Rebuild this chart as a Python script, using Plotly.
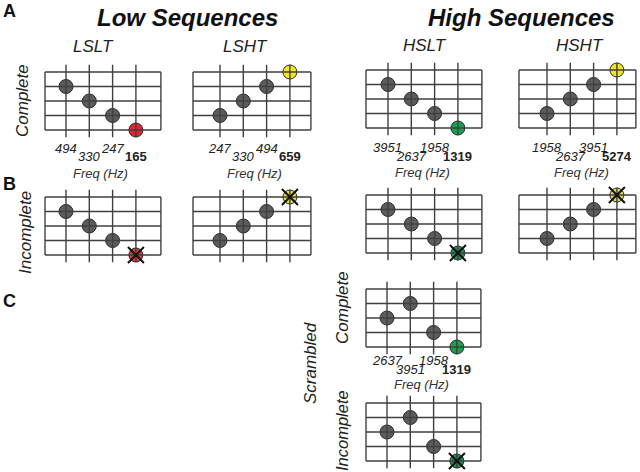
import plotly.graph_objects as go

# tone order (x position in the sequence) and pitch rank (y level, 0 = lowest row)
tone_positions = [1, 2, 3, 4]

lslt_freqs = ["494", "330", "247", "165"]
lslt_levels = [3, 2, 1, 0]
lsht_freqs = ["247", "330", "494", "659"]
lsht_levels = [1, 2, 3, 4]
hslt_freqs = ["3951", "2637", "1958", "1319"]
hslt_levels = [3, 2, 1, 0]
hsht_freqs = ["1958", "2637", "3951", "5274"]
hsht_levels = [1, 2, 3, 4]
scr_freqs = ["2637", "3951", "1958", "1319"]
scr_levels = [2, 3, 1, 0]

grid_levels = [0, 1, 2, 3, 4]

W, H = 640, 472
U, V = 23.3, 14.5  # pixels per tone / per level
FONT = "Liberation Sans, Arial, sans-serif"

RED, YEL, GRN = "#e0262a", "#f4e524", "#17a052"
RED_I, YEL_I, GRN_I = "#cf3b40", "#e0d64c", "#1f8c55"
GRAY = "#5c5c5c"
LINE = "#404040"

# placement of each panel: x pixel of tone 1, y pixel of box top, box overhangs (px)
panels = [
    dict(f=lslt_freqs, lv=lslt_levels, c=RED, inc=False, lx=66, ty=72, lo=21, ro=25, lab=(18, 26, 43)),
    dict(f=lsht_freqs, lv=lsht_levels, c=YEL, inc=False, lx=220, ty=72, lo=27, ro=21, lab=(18, 26, 43)),
    dict(f=hslt_freqs, lv=hslt_levels, c=GRN, inc=False, lx=388, ty=70, lo=22, ro=24, lab=(19, 28, 44)),
    dict(f=hsht_freqs, lv=hsht_levels, c=YEL, inc=False, lx=547, ty=70, lo=28, ro=19, lab=(19, 28, 44)),
    dict(f=lslt_freqs, lv=lslt_levels, c=RED_I, inc=True, lx=66, ty=197, lo=21, ro=25),
    dict(f=lsht_freqs, lv=lsht_levels, c=YEL_I, inc=True, lx=220, ty=197, lo=27, ro=21),
    dict(f=hslt_freqs, lv=hslt_levels, c=GRN_I, inc=True, lx=388, ty=195, lo=22, ro=24),
    dict(f=hsht_freqs, lv=hsht_levels, c=YEL_I, inc=True, lx=547, ty=195, lo=28, ro=19),
    dict(f=scr_freqs, lv=scr_levels, c=GRN, inc=False, lx=387, ty=289, lo=21, ro=24, lab=(13, 22, 37)),
    dict(f=scr_freqs, lv=scr_levels, c=GRN_I, inc=True, lx=387, ty=403, lo=21, ro=24),
]

fig = go.Figure()
annotations = []
layout_axes = {}

for i, p in enumerate(panels):
    n = "" if i == 0 else str(i + 1)
    xa, ya = "x" + n, "y" + n

    bx0 = 1 - p["lo"] / U
    bx1 = 4 + p["ro"] / U

    # axis ranges -> pixel domains
    xr = [bx0 - 0.35, bx1 + 0.35]
    px0 = max(0, p["lx"] + (xr[0] - 1) * U)
    px1 = min(W, p["lx"] + (xr[1] - 1) * U)
    xr = [1 + (px0 - p["lx"]) / U, 1 + (px1 - p["lx"]) / U]
    ybot = -(p["lab"][2] + 9) / V if "lab" in p else -0.6
    ybot = max(ybot, -(H - p["ty"] - 4 * V) / V)
    yr = [ybot, 4.6]
    py_top = p["ty"] - 0.6 * V
    py_bot = p["ty"] + (4 - ybot) * V

    layout_axes["xaxis" + n] = dict(domain=[px0 / W, px1 / W], range=xr, visible=False,
                                    fixedrange=True, anchor=ya)
    layout_axes["yaxis" + n] = dict(domain=[max(0, 1 - py_bot / H), 1 - py_top / H], range=yr,
                                    visible=False, fixedrange=True, anchor=xa)

    colors = [GRAY, GRAY, GRAY, p["c"]]
    fig.add_trace(go.Scatter(
        x=tone_positions, y=p["lv"], mode="markers", xaxis=xa, yaxis=ya,
        marker=dict(size=14, color=colors, line=dict(color="#2a2a2a", width=1)),
        cliponaxis=False, showlegend=False, hoverinfo="skip"))

    # staff grid: horizontal rows, box sides, tone stems
    hx, hy = [], []
    for lev in grid_levels:
        hx += [bx0, bx1, None]
        hy += [lev, lev, None]
    for bx in (bx0, bx1):
        hx += [bx, bx, None]
        hy += [0, 4, None]
    vx, vy = [], []
    for t in tone_positions:
        vx += [t, t, None]
        vy += [-0.5, 4.5, None]
    fig.add_trace(go.Scatter(x=hx + vx, y=hy + vy, mode="lines", xaxis=xa, yaxis=ya,
                             line=dict(color=LINE, width=1.4),
                             showlegend=False, hoverinfo="skip", cliponaxis=False))

    if p["inc"]:
        fig.add_trace(go.Scatter(
            x=[tone_positions[-1]], y=[p["lv"][-1]], mode="markers", xaxis=xa, yaxis=ya,
            marker=dict(symbol="x-thin", size=16, line=dict(color="#111111", width=2)),
            cliponaxis=False, showlegend=False, hoverinfo="skip"))

    if "lab" in p:
        d1, d2, d3 = p["lab"]
        for k, (t, f) in enumerate(zip(tone_positions, p["f"])):
            d = d1 if k % 2 == 0 else d2
            last = k == 3
            annotations.append(dict(
                x=t, y=-d / V, xref=xa, yref=ya, showarrow=False,
                text="<b>%s</b>" % f if last else "<i>%s</i>" % f,
                font=dict(family=FONT, size=13, color="#222222"),
                xanchor="center", yanchor="middle"))
        annotations.append(dict(
            x=2.5, y=-d3 / V, xref=xa, yref=ya, showarrow=False, text="<i>Freq (Hz)</i>",
            font=dict(family=FONT, size=13, color="#333333"),
            xanchor="center", yanchor="middle"))


def label(text, x, y, size, angle=0, color="#222222"):
    annotations.append(dict(x=x / W, y=1 - y / H, xref="paper", yref="paper", text=text,
                            showarrow=False, textangle=angle, xanchor="center",
                            yanchor="middle", font=dict(family=FONT, size=size, color=color)))


label("<b>A</b>", 9, 11, 18, color="#111111")
label("<b>B</b>", 9, 184, 18, color="#111111")
label("<b>C</b>", 9, 301, 18, color="#111111")
label("<b><i>Low Sequences</i></b>", 187, 17, 24, color="#111111")
label("<b><i>High Sequences</i></b>", 521, 17, 24, color="#111111")
label("<i>LSLT</i>", 93, 47, 17)
label("<i>LSHT</i>", 245, 47, 17)
label("<i>HSLT</i>", 425, 46, 17)
label("<i>HSHT</i>", 580, 46, 17)
label("<i>Complete</i>", 22, 101, 17, angle=-90)
label("<i>Incomplete</i>", 25, 233, 17, angle=-90)
label("<i>Scrambled</i>", 310, 363, 17, angle=-90)
label("<i>Complete</i>", 342, 308, 17, angle=-90)
label("<i>Incomplete</i>", 342, 431, 16.5, angle=-90)

fig.update_layout(
    width=W, height=H, margin=dict(l=0, r=0, t=0, b=0),
    paper_bgcolor="white", plot_bgcolor="rgba(0,0,0,0)",
    annotations=annotations, **layout_axes)

# drop the browser's default 8px page margin so the figure sits at the window corner
fig.write_html("out.html", config={"displayModeBar": False},
               post_script="document.body.style.margin='0';")
